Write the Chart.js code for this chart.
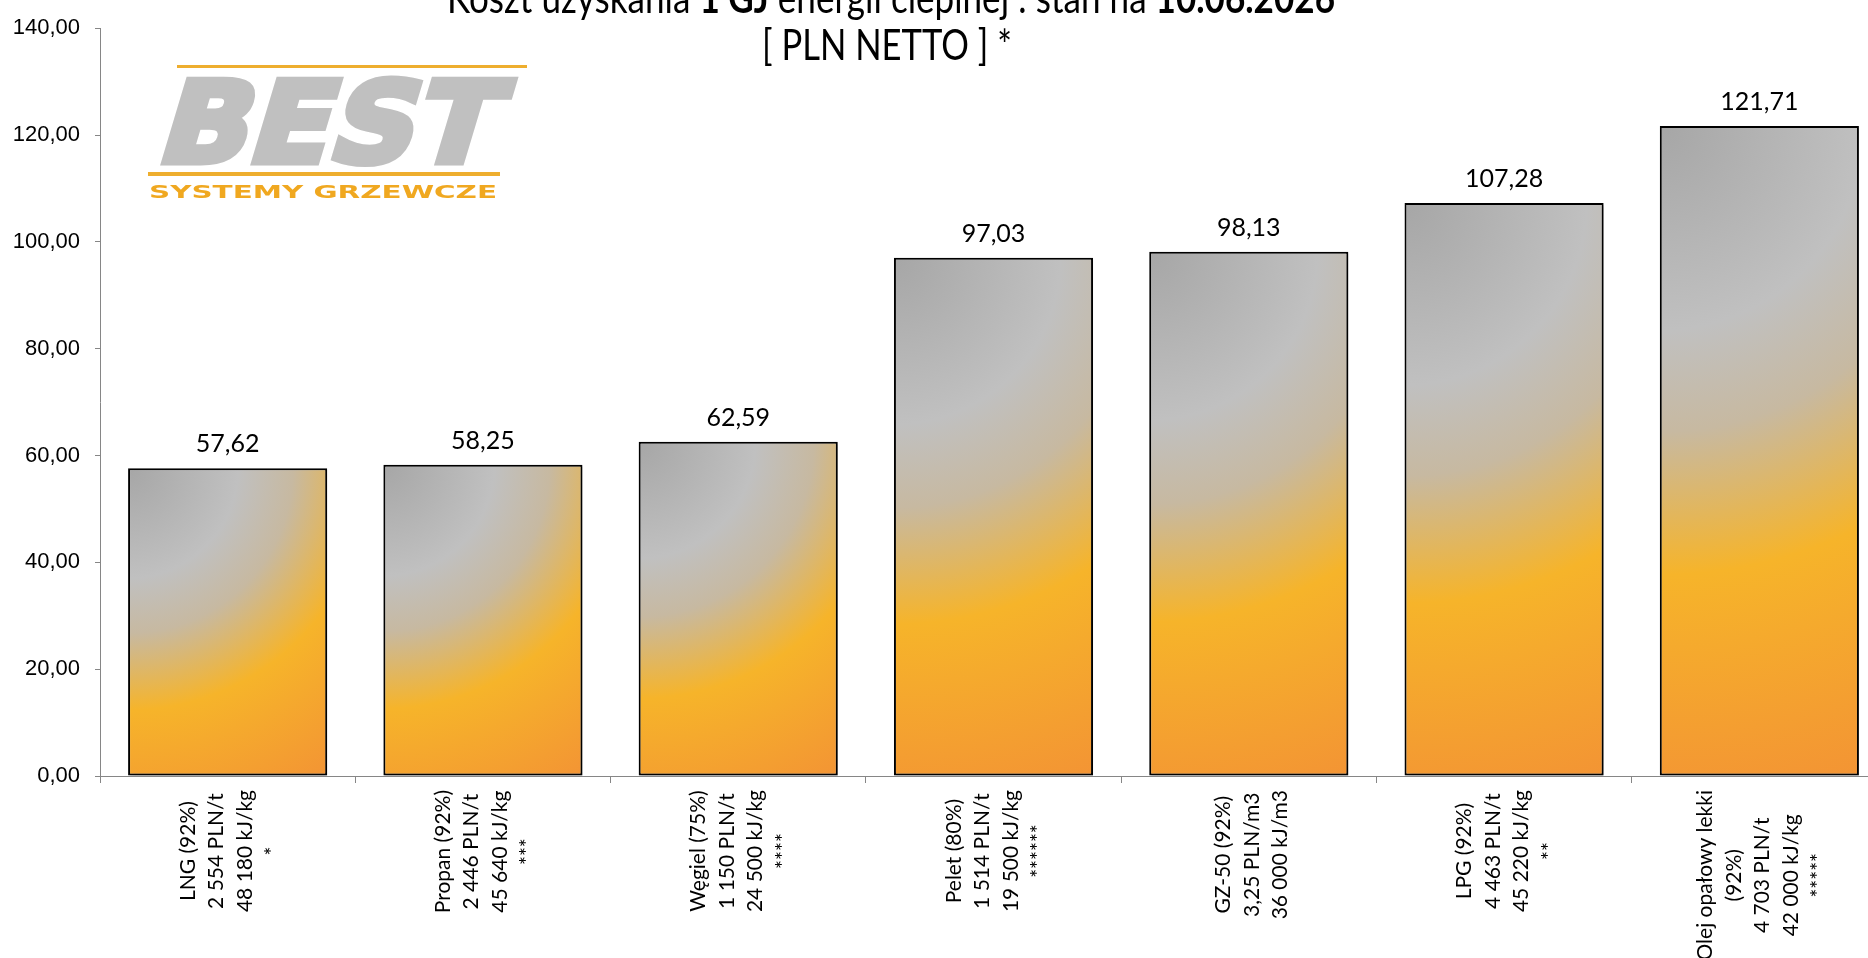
<!DOCTYPE html>
<html>
<head>
<meta charset="utf-8">
<script src="https://cdn.jsdelivr.net/npm/chart.js@4.4.1/dist/chart.umd.min.js"></script>
<style>
  html, body { margin: 0; padding: 0; background: #fff; overflow: hidden; }
  #wrap { position: relative; width: 1900px; height: 958px; }
</style>
</head>
<body>
<div id="wrap"><canvas id="chart"></canvas></div>
<script>
// --- data ---
const categories = [
  ["LNG (92%)", "2 554 PLN/t", "48 180 kJ/kg", "*"],
  ["Propan (92%)", "2 446 PLN/t", "45 640 kJ/kg", "***"],
  ["Węgiel (75%)", "1 150 PLN/t", "24 500 kJ/kg", "****"],
  ["Pelet (80%)", "1 514 PLN/t", "19 500 kJ/kg", "******"],
  ["GZ-50 (92%)", "3,25 PLN/m3", "36 000 kJ/m3"],
  ["LPG (92%)", "4 463 PLN/t", "45 220 kJ/kg", "**"],
  ["Olej opałowy lekki", "(92%)", "4 703 PLN/t", "42 000 kJ/kg", "*****"]
];
const costPerGJ = [57.62, 58.25, 62.59, 97.03, 98.13, 107.28, 121.71];
const yTickValues = [0, 20, 40, 60, 80, 100, 120, 140];
const titleLine1 = [
  ["Koszt uzyskania ", false],
  ["1 GJ", true],
  [" energii cieplnej : stan na ", false],
  ["10.06.2026", true]
];
const titleLine2 = "[ PLN NETTO ] *";

const fmt = v => v.toFixed(2).replace(".", ",");
const BAR_PCT = 0.78;
const AXIS_GREY = "#868686";

// radial fill from each bar's top-left corner, like the office preset
function barFill(ctx) {
  const chart = ctx.chart;
  if (!chart.chartArea || ctx.type !== "data") return "#f5a833";
  const xs = chart.scales.x, ys = chart.scales.y;
  const half = (xs.width / categories.length) * BAR_PCT / 2;
  const x0 = xs.getPixelForValue(ctx.dataIndex) - half;
  const top = ys.getPixelForValue(ctx.raw);
  const bottom = ys.getPixelForValue(0);
  const r = Math.hypot(half * 2, bottom - top);
  const g = chart.ctx.createRadialGradient(x0, top, 0, x0, top, r);
  g.addColorStop(0, "#a6a6a6");
  g.addColorStop(0.3, "#c0c0c0");
  g.addColorStop(0.45, "#c7b9a1");
  g.addColorStop(0.66, "#f6b42a");
  g.addColorStop(1, "#f39434");
  return g;
}

const barShadow = {
  id: "barShadow",
  beforeDatasetsDraw(chart) {
    const c = chart.ctx;
    c.save();
    c.shadowColor = "rgba(0,0,0,0.3)";
    c.shadowBlur = 3;
    c.shadowOffsetX = 2;
    c.shadowOffsetY = 2;
  },
  afterDatasetsDraw(chart) { chart.ctx.restore(); }
};

const valueLabels = {
  id: "valueLabels",
  afterDatasetsDraw(chart) {
    const c = chart.ctx;
    c.save();
    c.font = '25px Lato';
    c.fillStyle = "#000";
    c.textAlign = "center";
    c.textBaseline = "alphabetic";
    chart.getDatasetMeta(0).data.forEach((bar, i) => {
      c.fillText(fmt(costPerGJ[i]), bar.x, bar.y - 16);
    });
    c.restore();
  }
};

// rotated category labels, lines centred inside a block that hangs from the axis
const categoryLabels = {
  id: "categoryLabels",
  afterDraw(chart) {
    const c = chart.ctx, xs = chart.scales.x;
    const lineGap = 28.5;
    c.save();
    c.font = '21px Lato';
    c.fillStyle = "#000";
    c.textAlign = "center";
    c.textBaseline = "middle";
    categories.forEach((lines, i) => {
      const cx = xs.getPixelForValue(i) + 3;
      const maxW = Math.max(...lines.map(l => c.measureText(l).width));
      const cy = xs.top + 14 + maxW / 2;
      lines.forEach((l, j) => {
        c.save();
        c.translate(cx + (j - (lines.length - 1) / 2) * lineGap, cy);
        c.rotate(-Math.PI / 2);
        c.fillText(l, 0, 0);
        c.restore();
      });
    });
    c.restore();
  }
};

const titleAndLogo = {
  id: "titleAndLogo",
  afterDraw(chart) {
    const c = chart.ctx;
    // title, line 1 (mixed bold), squeezed to the width seen in the picture
    c.save();
    c.fillStyle = "#000";
    c.textBaseline = "alphabetic";
    const fontFor = b => (b ? "bold " : "") + '42px Lato';
    let total = 0;
    titleLine1.forEach(([t, b]) => { c.font = fontFor(b); total += c.measureText(t).width; });
    const w1 = 888, cx1 = 891;
    c.translate(cx1 - w1 / 2, 13);
    c.scale(w1 / total, 1);
    let x = 0;
    titleLine1.forEach(([t, b]) => { c.font = fontFor(b); c.fillText(t, x, 0); x += c.measureText(t).width; });
    c.restore();

    c.save();
    c.fillStyle = "#000";
    c.font = '42px Lato';
    const tw = c.measureText(titleLine2).width;
    const w2 = 250, cx2 = 887;
    c.translate(cx2 - w2 / 2, 60);
    c.scale(w2 / tw, 1);
    c.fillText(titleLine2, 0, 0);
    c.restore();

    // logo
    c.save();
    c.fillStyle = "#eeae2e";
    c.fillRect(177, 65, 350, 3);
    c.fillRect(148, 172, 352, 4);
    c.restore();

    c.save();
    c.translate(154, 162);
    c.transform(1, 0, -0.3, 1, 0, 0);
    c.font = 'bold 112px "DejaVu Sans"';
    const bw = c.measureText("BEST").width;
    c.scale(336 / bw, 1);
    c.fillStyle = "#c0c0c0";
    c.strokeStyle = "#c0c0c0";
    c.lineJoin = "miter";
    c.lineWidth = 7;
    c.strokeText("BEST", 0, 0);
    c.fillText("BEST", 0, 0);
    c.restore();

    c.save();
    c.font = 'bold 18px "DejaVu Sans"';
    c.fillStyle = "#f0a820";
    const sw = c.measureText("SYSTEMY GRZEWCZE").width;
    c.translate(149, 198);
    c.scale(348 / sw, 1);
    c.fillText("SYSTEMY GRZEWCZE", 0, 0);
    c.restore();
  }
};

new Chart(document.getElementById("chart"), {
  type: "bar",
  data: {
    labels: categories,
    datasets: [{
      data: costPerGJ,
      backgroundColor: barFill,
      borderColor: "#000",
      borderWidth: 2,
      borderSkipped: false,
      barPercentage: BAR_PCT,
      categoryPercentage: 1
    }]
  },
  options: {
    responsive: true,
    maintainAspectRatio: false,
    animation: false,
    layout: { padding: { top: 24, right: 13, left: 0, bottom: 0 } },
    plugins: { legend: { display: false }, tooltip: { enabled: false } },
    scales: {
      x: {
        grid: { drawOnChartArea: false, drawTicks: true, tickLength: 7, color: AXIS_GREY, offset: true },
        border: { color: AXIS_GREY, width: 1 },
        ticks: { display: false },
        afterFit(s) { s.height = 182; }
      },
      y: {
        min: 0,
        max: 140,
        afterBuildTicks(s) { s.ticks = yTickValues.map(v => ({ value: v })); },
        grid: { drawOnChartArea: false, tickLength: 5, color: AXIS_GREY },
        border: { color: AXIS_GREY, width: 1 },
        ticks: {
          padding: 15,
          color: "#000",
          font: { family: '"Liberation Sans", Arial, sans-serif', size: 22 },
          callback: v => fmt(v)
        },
        afterFit(s) { s.width = 100; }
      }
    }
  },
  plugins: [barShadow, valueLabels, categoryLabels, titleAndLogo]
});
</script>
</body>
</html>
